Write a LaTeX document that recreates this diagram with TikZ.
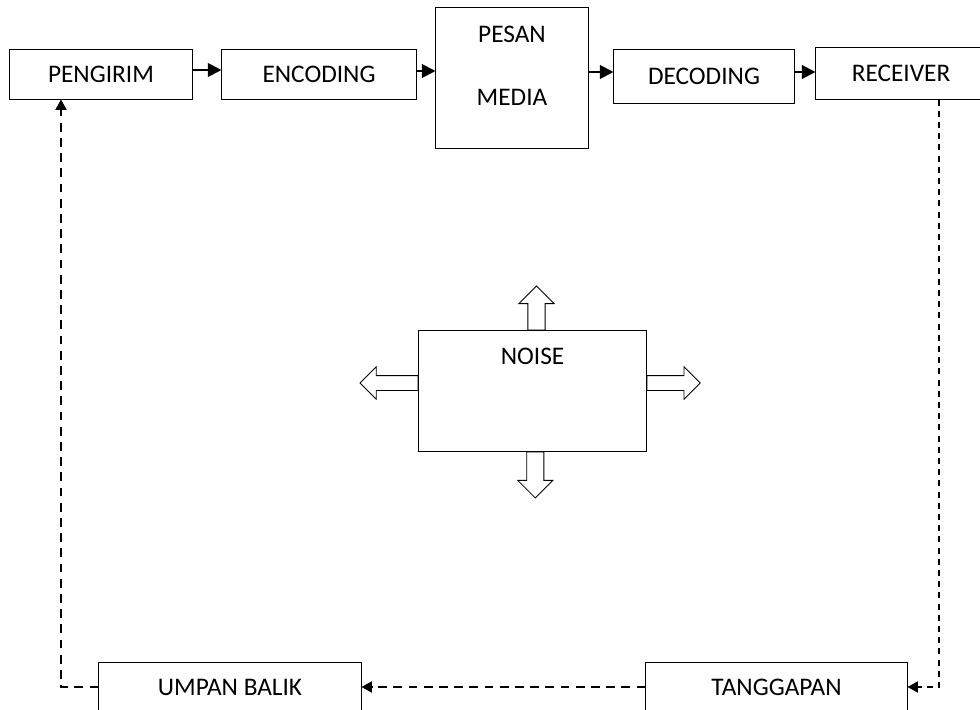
\documentclass[tikz,border=0pt]{standalone}
\usepackage{fontspec}
\setmainfont{Carlito}
\usepackage{tikz}
\usetikzlibrary{arrows.meta}
\usetikzlibrary{shapes.arrows}

\tikzset{
  blok/.style={draw, line width=0.7pt, font=\fontsize{18}{22}\selectfont},
  alur/.style={line width=1.4pt, -{Triangle[length=0.34cm,width=0.34cm]}},
  balik/.style={line width=1.1pt, dash pattern=on 0.22cm off 0.16cm, -{Triangle[length=0.26cm,width=0.28cm]}},
  panah/.style={draw, single arrow, line width=0.6pt, single arrow head extend=0.22cm}
}

\begin{document}
\begin{tikzpicture}[x=0.025cm, y=-0.025cm]
   \useasboundingbox (0,0) rectangle (980,710);
   % jalur utama
   \node[blok, minimum width=4.55cm, minimum height=1.25cm] (kirim) at (101, 74) {PENGIRIM};
   \node[blok, minimum width=4.85cm, minimum height=1.25cm] (enc) at (319, 74) {ENCODING};
   \node[blok, minimum width=3.8cm, minimum height=3.5cm,
         label={[font=\fontsize{18}{22}\selectfont, anchor=center, yshift=-0.675cm]north:PESAN},
         label={[font=\fontsize{18}{22}\selectfont, anchor=center, yshift=-2.25cm]north:MEDIA}] (pesan) at (512, 78) {};
   \node[blok, minimum width=4.5cm, minimum height=1.35cm] (dec) at (704, 76) {DECODING};
   \node[blok, minimum width=4.25cm, minimum height=1.3cm] (terima) at (901, 73) {RECEIVER};
   \path (kirim.east |- 0,70) edge[alur] (enc.west |- 0,70);
   \path (enc.east |- 0,71) edge[alur] (pesan.west |- 0,71);
   \path (pesan.east |- 0,72) edge[alur] (dec.west |- 0,72);
   \path (dec.east |- 0,72) edge[alur] (terima.west |- 0,72);

   % gangguan
   \node[blok, minimum width=5.675cm, minimum height=3cm,
         label={[font=\fontsize{18}{22}\selectfont, anchor=center, yshift=-0.65cm]north:NOISE}] (noise) at (532.5, 391) {};
   \node[panah, minimum height=1.1cm, minimum width=0.88cm, inner sep=0.2cm,
         shape border rotate=90, anchor=tail] (atas) at ([xshift=0.1cm]noise.north) {};
   \node[panah, minimum height=1.15cm, minimum width=0.88cm, inner sep=0.2cm,
         shape border rotate=270, anchor=tail] (bawah) at ([xshift=0.07cm]noise.south) {};
   \node[panah, minimum height=1.45cm, minimum width=0.75cm, inner sep=0.175cm,
         shape border rotate=180, anchor=tail] (kiri) at ([yshift=0.2cm]noise.west) {};
   \node[panah, minimum height=1.33cm, minimum width=0.75cm, inner sep=0.175cm,
         anchor=tail] (kanan) at ([yshift=0.2cm]noise.east) {};

   % umpan balik
   \node[blok, minimum width=6.525cm, minimum height=1.25cm] (tanggap) at (776.5, 687) {TANGGAPAN};
   \node[blok, minimum width=6.55cm, minimum height=1.25cm] (umpan) at (230, 687) {UMPAN BALIK};
   \coordinate (sudutkanan) at (939, 687);
   \coordinate (sudutkiri) at (61, 687);
   \draw[balik, line width=0.8pt, dash pattern=on 0.15cm off 0.13cm]
      (terima.south -| sudutkanan) -- (sudutkanan) -- (tanggap.east);
   \draw[balik] (tanggap.west) -- (umpan.east);
   \draw[balik, line width=0.9pt] (umpan.west) -- (sudutkiri) -- (kirim.south -| sudutkiri);
\end{tikzpicture}
\end{document}
